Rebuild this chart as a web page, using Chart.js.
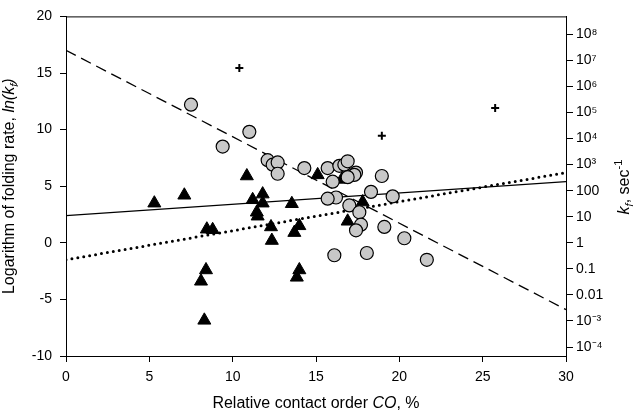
<!DOCTYPE html>
<html>
<head>
<meta charset="utf-8">
<script src="https://cdn.jsdelivr.net/npm/chart.js@4.4.0/dist/chart.umd.min.js"></script>
<style>
  html, body { margin: 0; padding: 0; background: #fff; }
  #wrap { width: 640px; height: 414px; position: relative; }
</style>
</head>
<body>
<div id="wrap"><canvas id="myChart"></canvas></div>
<script>
// gray circles
const circleX = [7.5, 11.0, 9.4, 12.1, 12.4, 12.7, 12.7, 14.3, 15.7, 16.4, 16.7, 16.9, 17.4, 17.3, 16.9, 16.0, 18.95, 18.3, 16.2, 15.7, 19.6, 17.0, 17.6, 17.7, 17.4, 19.1, 20.3, 16.1, 18.05, 21.65]
const circleY = [12.2, 9.8, 8.5, 7.3, 6.9, 7.1, 6.1, 6.6, 6.6, 6.8, 6.9, 7.2, 6.2, 6.0, 5.8, 5.4, 5.9, 4.5, 4.0, 3.9, 4.1, 3.3, 2.7, 1.6, 1.1, 1.4, 0.4, -1.1, -0.9, -1.5]
// black triangles
const triangleX = [5.3, 7.1, 10.85, 11.2, 11.8, 11.8, 11.45, 11.5, 8.45, 8.8, 12.3, 12.35, 8.4, 8.1, 8.3, 15.1, 16.55, 13.55, 17.8, 14.0, 13.7, 16.9, 14.0, 13.85]
const triangleY = [3.5, 4.2, 5.9, 3.8, 4.3, 3.5, 2.7, 2.35, 1.2, 1.15, 1.4, 0.2, -2.4, -3.4, -6.85, 6.0, 5.6, 3.45, 3.6, 1.5, 0.9, 1.9, -2.4, -3.05]
// crosses
const crossX = [10.4, 18.95, 25.75]
const crossY = [15.45, 9.45, 11.9]
// fitted lines
const lineX = [0, 30]
const solidY = [2.4, 5.4]
const dottedY = [-1.5, 6.2]
const dashedY = [17, -5.9]
// right axis (k_f) ticks: powers of ten
const rightExp = [-4, -3, -2, -1, 0, 1, 2, 3, 4, 5, 6, 7, 8]
const rightLabels = ['10⁻⁴', '10⁻³', '0.01', '0.1', '1', '10', '100', '10³', '10⁴', '10⁵', '10⁶', '10⁷', '10⁸']

const pts = (xs, ys) => xs.map((x, i) => ({ x: x, y: ys[i] }))
const FONT = 'Liberation Sans, Arial, sans-serif'

function drawRuns(ctx, runs, x, y, rot, size) {
  ctx.save()
  ctx.translate(x, y)
  ctx.rotate(rot)
  ctx.fillStyle = '#000'
  ctx.textBaseline = 'middle'
  ctx.textAlign = 'left'
  const fontOf = (r) => (r.i ? 'italic ' : '') + (r.sub || r.sup ? size * 0.7 : size) + 'px ' + FONT
  let total = 0
  runs.forEach((r) => { ctx.font = fontOf(r); total += ctx.measureText(r.t).width })
  let cx = -total / 2
  runs.forEach((r) => {
    ctx.font = fontOf(r)
    let dy = r.sub ? size * 0.28 : (r.sup ? -size * 0.35 : 0)
    ctx.fillText(r.t, cx, dy)
    cx += ctx.measureText(r.t).width
  })
  ctx.restore()
}

const titles = {
  id: 'titles',
  afterDraw(chart) {
    const ctx = chart.ctx
    const a = chart.chartArea
    // top frame line
    ctx.save()
    ctx.strokeStyle = '#000'
    ctx.lineWidth = 1
    ctx.beginPath()
    ctx.moveTo(a.left, a.top + 0.5)
    ctx.lineTo(a.right, a.top + 0.5)
    ctx.stroke()
    ctx.restore()
    drawRuns(ctx, [{ t: 'Logarithm of folding rate, ' }, { t: 'ln(k', i: true }, { t: 'f', i: true, sub: true }, { t: ')', i: true }],
      10, (a.top + a.bottom) / 2, -Math.PI / 2, 16)
    drawRuns(ctx, [{ t: 'Relative contact order ' }, { t: 'CO', i: true }, { t: ', %' }],
      (a.left + a.right) / 2, 404, 0, 16)
    drawRuns(ctx, [{ t: 'k', i: true }, { t: 'f', i: true, sub: true }, { t: ', sec' }, { t: '-1', sup: true }],
      625, 187, -Math.PI / 2, 16)
  }
}

const data = {
  datasets: [
    {
      label: 'crosses',
      data: pts(crossX, crossY),
      pointStyle: 'cross',
      pointRadius: 4,
      pointBorderWidth: 2,
      borderColor: '#000',
      backgroundColor: '#000'
    },
    {
      label: 'circles',
      data: pts(circleX, circleY),
      pointStyle: 'circle',
      pointRadius: 6.5,
      pointBorderWidth: 1.2,
      borderColor: '#000',
      backgroundColor: '#c8c8c8'
    },
    {
      label: 'triangles',
      data: pts(triangleX, triangleY),
      pointStyle: 'triangle',
      pointRadius: 7.5,
      pointBorderWidth: 1,
      borderColor: '#000',
      backgroundColor: '#000'
    },
    {
      type: 'line',
      label: 'solid',
      data: pts(lineX, solidY),
      borderColor: '#000',
      borderWidth: 1.3,
      pointRadius: 0
    },
    {
      type: 'line',
      label: 'dotted',
      data: pts(lineX, dottedY),
      borderColor: '#000',
      borderWidth: 3,
      borderDash: [0, 6],
      borderCapStyle: 'round',
      pointRadius: 0
    },
    {
      type: 'line',
      label: 'dashed',
      data: pts(lineX, dashedY),
      borderColor: '#000',
      borderWidth: 1.3,
      borderDash: [11, 6],
      pointRadius: 0
    }
  ]
}

const tickFont = { family: FONT, size: 14 }

const config = {
  type: 'scatter',
  data: data,
  options: {
    responsive: true,
    maintainAspectRatio: false,
    animation: false,
    layout: { padding: { top: 6, left: 0, right: 0, bottom: 0 } },
    plugins: { legend: { display: false }, tooltip: { enabled: false } },
    scales: {
      x: {
        type: 'linear',
        min: 0,
        max: 30,
        ticks: { stepSize: 5, font: tickFont, color: '#000', padding: 7 },
        grid: { drawOnChartArea: false, tickLength: 6, color: '#000' },
        border: { color: '#000', width: 1 },
        afterFit: (s) => { s.height = 58 }
      },
      y: {
        position: 'left',
        min: -10,
        max: 20,
        ticks: { stepSize: 5, font: tickFont, color: '#000', padding: 8 },
        grid: { drawOnChartArea: false, tickLength: 6, color: '#000' },
        border: { color: '#000', width: 1 },
        afterFit: (s) => { s.width = 66 }
      },
      y2: {
        position: 'right',
        min: -10,
        max: 20,
        afterBuildTicks: (s) => { s.ticks = rightExp.map((k) => ({ value: k * Math.LN10 })) },
        ticks: {
          autoSkip: false,
          font: tickFont,
          color: '#000',
          padding: 3,
          callback: (v, i) => rightLabels[i]
        },
        grid: { drawOnChartArea: false, tickLength: 7, color: '#000' },
        border: { color: '#000', width: 1 },
        afterFit: (s) => { s.width = 74 }
      }
    }
  },
  plugins: [titles]
}

const myChart = new Chart(document.getElementById('myChart'), config)
</script>
</body>
</html>
